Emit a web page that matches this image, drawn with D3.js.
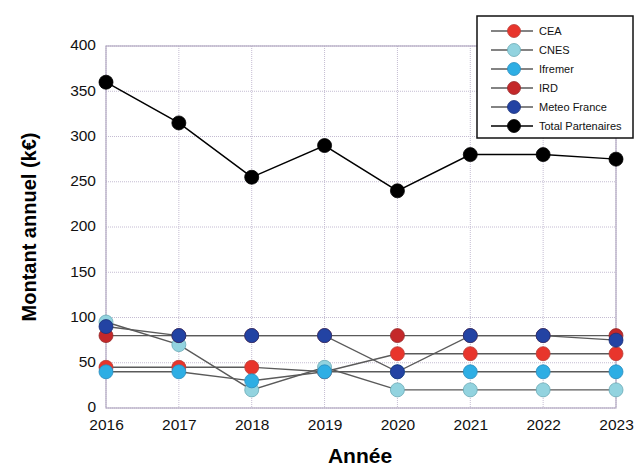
<!DOCTYPE html>
<meta charset="utf-8" />
<script src="https://d3js.org/d3.v7.min.js"></script>
<style>
  body { margin: 0; background: #fff; }
  text { font-family: "Liberation Sans", Arial, sans-serif; }
</style>
<body>
<div id="chart"></div>
<script>
  // data
  var years = [2016, 2017, 2018, 2019, 2020, 2021, 2022, 2023];
  var cea = [45, 45, 45, 40, 60, 60, 60, 60];
  var cnes = [95, 70, 20, 45, 20, 20, 20, 20];
  var ifremer = [40, 40, 30, 40, 40, 40, 40, 40];
  var ird = [80, 80, 80, 80, 80, 80, 80, 80];
  var meteo = [90, 80, 80, 80, 40, 80, 80, 75];
  var total = [360, 315, 255, 290, 240, 280, 280, 275];
  var yTicks = [0, 50, 100, 150, 200, 250, 300, 350, 400];

  var series = [
    { name: "CEA", values: cea, fill: "#e8352c", stroke: "#b8403a", line: "#5a5a5a" },
    { name: "CNES", values: cnes, fill: "#92d3df", stroke: "#6aa9b5", line: "#5a5a5a" },
    { name: "Ifremer", values: ifremer, fill: "#2eaee4", stroke: "#2a8cbc", line: "#5a5a5a" },
    { name: "IRD", values: ird, fill: "#c4282a", stroke: "#952a2a", line: "#5a5a5a" },
    { name: "Meteo France", values: meteo, fill: "#2343a3", stroke: "#1c3178", line: "#5a5a5a" },
    { name: "Total Partenaires", values: total, fill: "#000", stroke: "#000", line: "#000" }
  ];

  var W = 636, H = 470;
  var margin = { top: 46, right: 20, bottom: 62, left: 106 };
  var width = 616 - margin.left, height = 408 - margin.top;

  var svg = d3.select("#chart").append("svg")
    .attr("width", W).attr("height", H);
  var g = svg.append("g")
    .attr("transform", "translate(" + margin.left + "," + margin.top + ")");

  var x = d3.scaleLinear().domain([2016, 2023]).range([0, width]);
  var y = d3.scaleLinear().domain([0, 400]).range([height, 0]);

  var gridColor = "#c4bcd2";

  // grid
  g.append("g").selectAll("line").data(yTicks).enter().append("line")
    .attr("x1", 0).attr("x2", width)
    .attr("y1", function(d) { return y(d); }).attr("y2", function(d) { return y(d); })
    .attr("stroke", gridColor).attr("stroke-width", 1)
    .attr("stroke-dasharray", "1,1");
  g.append("g").selectAll("line").data(years).enter().append("line")
    .attr("y1", 0).attr("y2", height)
    .attr("x1", function(d) { return x(d); }).attr("x2", function(d) { return x(d); })
    .attr("stroke", gridColor).attr("stroke-width", 1)
    .attr("stroke-dasharray", "1,1");

  // frame
  g.append("rect").attr("width", width).attr("height", height)
    .attr("fill", "none").attr("stroke", "#b2a9c2").attr("stroke-width", 1.2);

  // axes
  var xAxis = d3.axisBottom(x).tickValues(years).tickFormat(d3.format("d")).tickSize(0).tickPadding(11);
  var gx = g.append("g").attr("transform", "translate(0," + height + ")").call(xAxis);
  var yAxis = d3.axisLeft(y).tickValues(yTicks).tickSize(0).tickPadding(10);
  var gy = g.append("g").call(yAxis);
  [gx, gy].forEach(function(a) {
    a.select(".domain").remove();
    a.selectAll("text").style("font-size", "15.5px").attr("fill", "#111");
  });
  gy.selectAll("text").attr("dy", "0.25em");

  // titles
  svg.append("text").attr("x", 360).attr("y", 463)
    .attr("text-anchor", "middle").style("font-size", "21px").style("font-weight", "bold")
    .text("Année");
  svg.append("text")
    .attr("transform", "translate(36," + (margin.top + height / 2) + ") rotate(-90)")
    .attr("text-anchor", "middle").style("font-size", "20px").style("font-weight", "bold")
    .text("Montant annuel (k€)");

  // series
  var line = d3.line()
    .x(function(d, i) { return x(years[i]); })
    .y(function(d) { return y(d); });

  series.forEach(function(s) {
    var sg = g.append("g");
    sg.append("path").datum(s.values).attr("d", line)
      .attr("fill", "none").attr("stroke", s.line).attr("stroke-width", s.name == "Total Partenaires" ? 1.5 : 1.4);
    sg.selectAll("circle").data(s.values).enter().append("circle")
      .attr("cx", function(d, i) { return x(years[i]); })
      .attr("cy", function(d) { return y(d); })
      .attr("r", 7)
      .attr("fill", s.fill).attr("stroke", s.stroke).attr("stroke-width", 0.8);
  });

  // legend
  var lg = svg.append("g").attr("transform", "translate(477,16)");
  lg.append("rect").attr("width", 156).attr("height", 122)
    .attr("fill", "#fff").attr("stroke", "#111").attr("stroke-width", 1.5);
  series.forEach(function(s, i) {
    var yy = 15 + i * 19;
    lg.append("line").attr("x1", 14).attr("x2", 56).attr("y1", yy).attr("y2", yy)
      .attr("stroke", s.line).attr("stroke-width", 1.3);
    lg.append("circle").attr("cx", 37).attr("cy", yy).attr("r", 6.5)
      .attr("fill", s.fill).attr("stroke", s.stroke).attr("stroke-width", 0.8);
    lg.append("text").attr("x", 62).attr("y", yy + 4)
      .style("font-size", "11px").attr("fill", "#111").text(s.name);
  });
</script>
</body>
